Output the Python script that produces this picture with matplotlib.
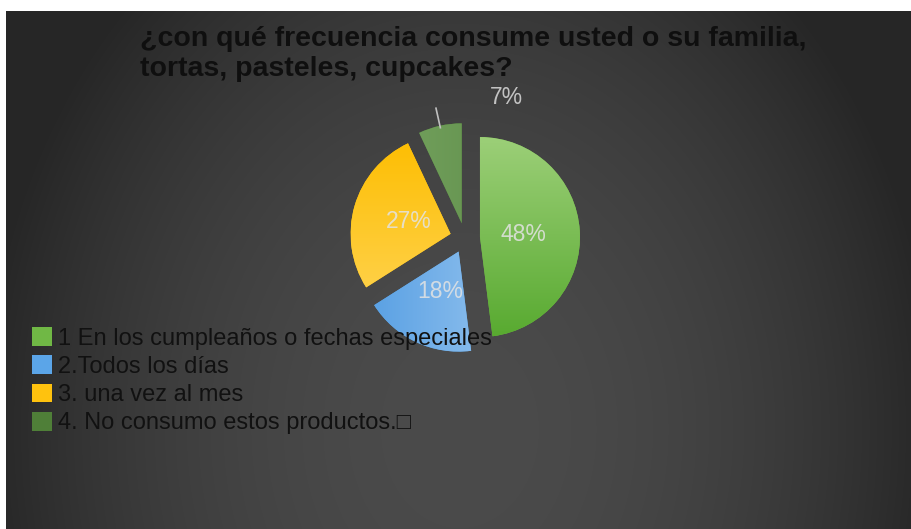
import numpy as np
import matplotlib.pyplot as plt
from matplotlib.patches import Patch
from matplotlib.colors import to_rgb

# Chart data
title = "¿con qué frecuencia consume usted o su familia,\ntortas, pasteles, cupcakes?"
categories = ["1 En los cumpleaños o fechas especiales",
              "2.Todos los días",
              "3. una vez al mes",
              "4. No consumo estos productos.\u25a1"]
values = [48, 18, 27, 7]
colors = ["#70b845", "#5ba5e8", "#ffc20e", "#4f7f38"]
# gradient (start, end, direction) per slice
shades = [("#9ccf78", "#58aa30", "v"),
          ("#559ee3", "#a9cff2", "h"),
          ("#fdbd00", "#ffd65a", "v"),
          ("#78a562", "#5a8a45", "h")]

fonts = ["Liberation Sans", "DejaVu Sans"]
W, H = 911, 529

fig = plt.figure(figsize=(W / 100, H / 100), dpi=100)
fig.patch.set_facecolor("white")
ax = fig.add_axes([0, 0, 1, 1])

# dark radial background
xs = np.linspace(6, W, 905)
ys = np.linspace(0, H - 11, 518)
X, Y = np.meshgrid(xs, ys)
d = np.sqrt(((X - 460) / 480) ** 2 + ((Y - 99) / 600) ** 2)
v = (75 - 37 * np.clip(d, 0, 1) ** 2) / 255
bg = np.dstack([v, v, v])
ax.imshow(bg, extent=(6, W, 0, H - 11), origin="lower", zorder=0,
          interpolation="bilinear", aspect="auto")

# pie
wedges, texts, autotexts = ax.pie(
    values, colors=colors, startangle=90, counterclock=False,
    explode=[15] * len(values), radius=100, center=(465, 291),
    autopct="%1.0f%%", pctdistance=0.44,
    wedgeprops=dict(linewidth=0),
    textprops=dict(color="#e3e3e3", fontsize=16.5, family=fonts, alpha=0.85))

# gradient fill clipped to each slice
for w, (c1, c2, direc) in zip(wedges, shades):
    cx, cy = w.center
    r = w.r
    t = np.linspace(0, 1, 200)
    if direc == "v":
        g = np.tile(t[:, None], (1, 200))
    else:
        g = np.tile(t[None, :], (200, 1))
    a, b = np.array(to_rgb(c1)), np.array(to_rgb(c2))
    img = a + (b - a) * g[..., None]
    im = ax.imshow(img, extent=(cx - r, cx + r, cy - r, cy + r), origin="upper",
                   zorder=2, interpolation="bilinear", aspect="auto")
    im.set_clip_path(w)

# small slice label sits outside with a short leader line
w = wedges[3]
cx, cy = w.center
r = w.r
autotexts[3].set_position((cx + 0.45 * r, cy + 1.26 * r))
autotexts[3].set_color("#dadada")
thm = np.deg2rad((w.theta1 + w.theta2) / 2)
ax.plot([cx + 0.98 * r * np.cos(thm), cx + 1.18 * r * np.cos(thm)],
        [cy + 0.98 * r * np.sin(thm), cy + 1.18 * r * np.sin(thm)],
        color="#c0c0c0", lw=1.2, zorder=3)

ax.set_xlim(0, W)
ax.set_ylim(0, H)
ax.set_axis_off()

# title
ax.text(140, H - 26, title, fontsize=20.5, fontweight="bold", va="top",
        ha="left", color="#0f0f0f", family=fonts, linespacing=1.22, zorder=4)

# legend
handles = [Patch(facecolor=c, edgecolor="none") for c in colors]
ax.legend(handles, categories, loc="upper left",
          bbox_to_anchor=(32, H - 327), bbox_transform=ax.transData,
          frameon=False, prop={"family": fonts, "size": 17},
          labelcolor="#111111", handlelength=0.85, handleheight=0.85,
          handletextpad=0.27, labelspacing=0.24, borderpad=0, borderaxespad=0)

fig.savefig("out.png", dpi=100, facecolor=fig.get_facecolor())
